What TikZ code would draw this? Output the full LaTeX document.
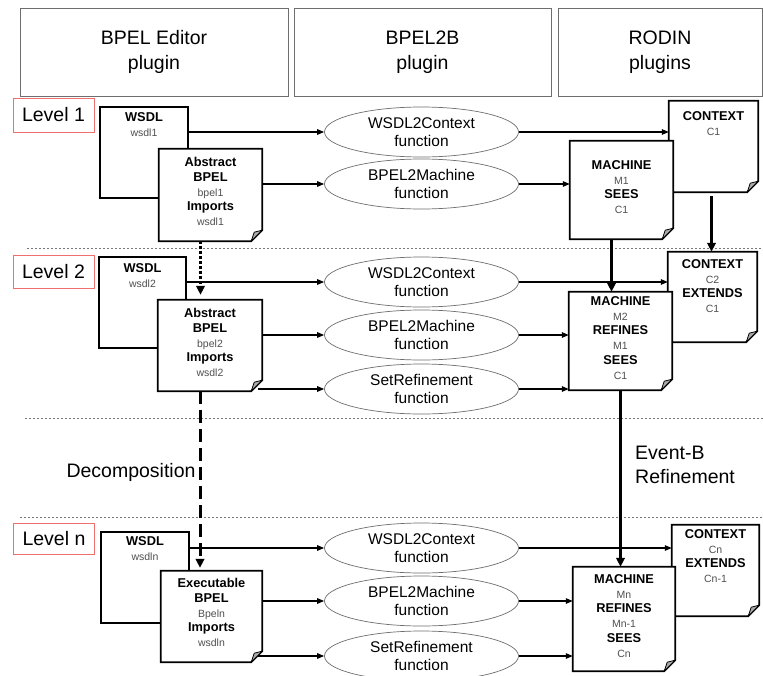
\documentclass[tikz,border=0pt]{standalone}
\usepackage{fontspec}
\setmainfont{Liberation Sans}
\usetikzlibrary{shapes.geometric,arrows.meta,calc}
\definecolor{hdrgray}{RGB}{110,110,110}
\definecolor{lvlred}{RGB}{240,110,110}
\definecolor{ellgray}{RGB}{110,110,110}
\definecolor{sepgray}{RGB}{120,120,120}
\definecolor{txtgray}{RGB}{80,80,80}
\definecolor{foldgray}{RGB}{170,170,170}
\newcommand\smalltxt[1]{{\fontsize{10.5}{14.7}\selectfont\mdseries\color{txtgray}#1}}
\newcommand\drawdoc[1]{%
  \filldraw[fill=white, draw=black, line width=1.8pt, line join=miter]
    (#1.north west) -- (#1.north east) -- ([yshift=11pt]#1.south east)
    -- ([xshift=-11pt]#1.south east) -- (#1.south west) -- cycle;
  \filldraw[fill=foldgray, draw=black, line width=0.8pt, line join=round]
    ([yshift=11pt]#1.south east) -- ([xshift=-11pt]#1.south east)
    -- ([xshift=-8pt,yshift=9pt]#1.south east) -- cycle;
}
\begin{document}
\begin{tikzpicture}[x=1pt,y=-1pt,
  hdrbox/.style={draw=hdrgray, line width=0.8pt, inner sep=0, align=center,
    font=\fontsize{19.5}{25}\selectfont},
  lvlbox/.style={draw=lvlred, line width=0.8pt, minimum width=81pt, inner sep=0,
    font=\fontsize{19.5}{23}\selectfont},
  fnell/.style={ellipse, draw=ellgray, fill=white, line width=0.7pt, minimum width=194pt,
    minimum height=50pt, inner sep=0, align=center, font=\fontsize{15.5}{18}\selectfont},
  wbox/.style={rectangle, draw=black, fill=white, line width=1.8pt, inner sep=0},
  area/.style={rectangle, draw=none, inner sep=0},
  doctext/.style={anchor=north, inner sep=0, align=center,
    font=\fontsize{12.8}{14.7}\selectfont\bfseries},
  thinarr/.style={line width=1.3pt, -{Triangle[length=7pt,width=5.5pt]}},
  thickarr/.style={line width=2.6pt, -{Triangle[length=9pt,width=8.5pt]}},
  sepline/.style={draw=sepgray, line width=0.8pt, dash pattern=on 2pt off 2pt},
  sidetext/.style={font=\fontsize{19.5}{24}\selectfont, inner sep=0}
]
\useasboundingbox (0,0) rectangle (763,675);
\clip (0,0) rectangle (763,675);
\fill[white] (0,0) rectangle (763,675);

% header
\node[hdrbox, minimum width=268pt, minimum height=88pt] (h1) at (154,52) {BPEL Editor\\plugin};
\node[hdrbox, minimum width=257pt, minimum height=88pt] (h2) at (422.5,52) {BPEL2B\\plugin};
\node[hdrbox, minimum width=204pt, minimum height=88pt] (h3) at (660,52) {RODIN\\plugins};

% separators
\draw[sepline] (27,248) -- (763,248);
\draw[sepline] (25,418) -- (763,418);
\draw[sepline] (20,517) -- (763,517);

% level labels
\node[lvlbox, minimum height=34pt] (l1) at (53.5,115) {Level 1};
\node[lvlbox, minimum height=33pt] (l2) at (53.5,271.5) {Level 2};
\node[lvlbox, minimum height=31pt] (ln) at (54,538.5) {Level n};

% ===== Level 1 =====
\node[wbox, minimum width=88pt, minimum height=91pt] (w1) at (144,152.5) {};
\node[area, minimum width=103pt, minimum height=92pt] (b1) at (210.5,195) {};
\drawdoc{b1}
\node[doctext] (w1t) at (144,112.4) {WSDL\\\smalltxt{wsdl1}};
\node[doctext] (b1t) at (210.5,157.4) {Abstract\\BPEL\\\smalltxt{bpel1}\\Imports\\\smalltxt{wsdl1}};

\node[area, minimum width=89pt, minimum height=91pt] (c1) at (713.5,146.5) {};
\drawdoc{c1}
\node[doctext] (c1t) at (713.5,111.4) {CONTEXT\\\smalltxt{C1}};
\node[area, minimum width=103pt, minimum height=98pt] (m1) at (621.5,190) {};
\drawdoc{m1}
\node[doctext] (m1t) at (621.5,160.4) {MACHINE\\\smalltxt{M1}\\SEES\\\smalltxt{C1}};

\node[fnell] (e1a) at (421.5,132) {WSDL2Context\\function};
\node[fnell] (e1b) at (421.5,184) {BPEL2Machine\\function};

% ===== Level 2 =====
\node[wbox, minimum width=87pt, minimum height=91pt] (w2) at (142.5,302.5) {};
\node[area, minimum width=104pt, minimum height=91pt] (b2) at (210,345.5) {};
\drawdoc{b2}
\node[doctext] (w2t) at (142.5,263.4) {WSDL\\\smalltxt{wsdl2}};
\node[doctext] (b2t) at (210,308.4) {Abstract\\BPEL\\\smalltxt{bpel2}\\Imports\\\smalltxt{wsdl2}};

\node[area, minimum width=89pt, minimum height=90pt] (c2) at (712.5,297) {};
\drawdoc{c2}
\node[doctext] (c2t) at (712.5,259.4) {CONTEXT\\\smalltxt{C2}\\EXTENDS\\\smalltxt{C1}};
\node[area, minimum width=103pt, minimum height=98pt] (m2) at (620.5,341) {};
\drawdoc{m2}
\node[doctext] (m2t) at (620.5,296.4) {MACHINE\\\smalltxt{M2}\\REFINES\\\smalltxt{M1}\\SEES\\\smalltxt{C1}};

\node[fnell] (e2a) at (421.5,282) {WSDL2Context\\function};
\node[fnell] (e2b) at (421.5,335) {BPEL2Machine\\function};
\node[fnell] (e2c) at (421.5,389) {SetRefinement\\function};

% ===== Level n =====
\node[wbox, minimum width=88pt, minimum height=91pt] (wn) at (145,577.5) {};
\node[area, minimum width=101pt, minimum height=91pt] (bn) at (211.5,616.5) {};
\drawdoc{bn}
\node[doctext] (wnt) at (145,536.4) {WSDL\\\smalltxt{wsdln}};
\node[doctext] (bnt) at (211.5,578.4) {Executable\\BPEL\\\smalltxt{Bpeln}\\Imports\\\smalltxt{wsdln}};

\node[area, minimum width=87pt, minimum height=91pt] (cn) at (715.5,570.5) {};
\drawdoc{cn}
\node[doctext] (cnt) at (715.5,529.4) {CONTEXT\\\smalltxt{Cn}\\EXTENDS\\\smalltxt{Cn-1}};
\node[area, minimum width=102pt, minimum height=104pt] (mn) at (624,619) {};
\drawdoc{mn}
\node[doctext] (mnt) at (624,574.4) {MACHINE\\\smalltxt{Mn}\\REFINES\\\smalltxt{Mn-1}\\SEES\\\smalltxt{Cn}};

\node[fnell] (ena) at (421.5,548) {WSDL2Context\\function};
\node[fnell] (enb) at (421.5,601) {BPEL2Machine\\function};
\node[fnell] (enc) at (421.5,656) {SetRefinement\\function};

% ===== horizontal arrows =====
\draw[thinarr] (w1.east |- e1a) -- (e1a.west);
\draw[thinarr] (b1.east |- e1b) -- (e1b.west);
\draw[thinarr] (e1a.east) -- (c1.west |- e1a);
\draw[thinarr] (e1b.east) -- (m1.west |- e1b);

\draw[thinarr] (w2.east |- e2a) -- (e2a.west);
\draw[thinarr] (b2.east |- e2b) -- (e2b.west);
\draw[thinarr] ($(b2.east |- e2c)+(-4,0)$) -- (e2c.west);
\draw[thinarr] (e2a.east) -- (c2.west |- e2a);
\draw[thinarr] (e2b.east) -- (m2.west |- e2b);
\draw[thinarr] (e2c.east) -- (m2.west |- e2c);

\draw[thinarr] (wn.east |- ena) -- (ena.west);
\draw[thinarr] (bn.east |- enb) -- (enb.west);
\draw[thinarr] ($(bn.east |- enc)+(-4,0)$) -- (enc.west);
\draw[thinarr] (ena.east) -- (cn.west |- ena);
\draw[thinarr] (enb.east) -- (mn.west |- enb);
\draw[thinarr] (enc.east) -- (mn.west |- enc);

% ===== vertical arrows =====
\draw[thickarr, shorten <=4pt] ($(c1.south)+(-2,0)$) -- ($(c1.south |- c2.north)+(-2,0)$);
\draw[thickarr] ($(m1.south)+(-10,0)$) -- ($(m1.south |- m2.north)+(-10,0)$);
\draw[thickarr, line width=2.3pt] (m2.south) -- (m2.south |- mn.north);
\draw[thickarr, dash pattern=on 2.5pt off 2.5pt, line width=3pt, shorten >=5pt]
  ($(b1.south)+(-10,0)$) -- ($(b1.south |- b2.north)+(-10,0)$);
\draw[thickarr, dash pattern=on 13pt off 6pt, line width=3pt, shorten >=3pt]
  ($(b2.south)+(-10,0)$) -- ($(b2.south |- bn.north)+(-10,0)$);

% side labels
\node[sidetext] (dec) at (131,472) {Decomposition};
\node[sidetext, anchor=west, align=left] (evb) at (635,465) {Event-B\\Refinement};
\end{tikzpicture}
\end{document}
